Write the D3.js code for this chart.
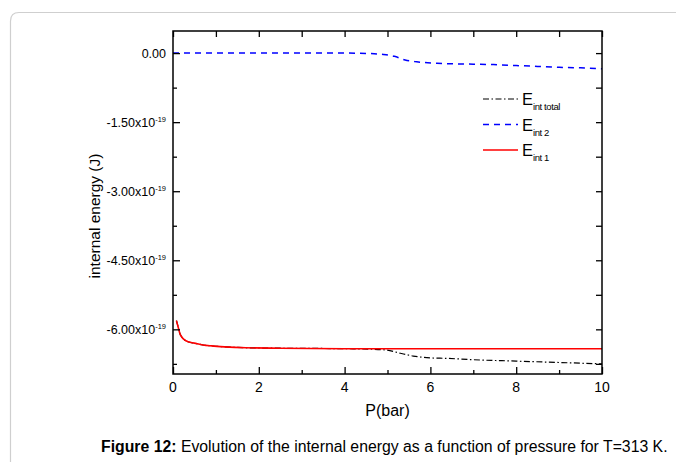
<!DOCTYPE html>
<html>
<head>
<meta charset="utf-8">
<script src="https://cdn.jsdelivr.net/npm/d3@7"></script>
<style>
  body { margin: 0; background: #fff; }
  svg { display: block; font-family: "Liberation Sans", Arial, sans-serif; }
</style>
</head>
<body>
<svg id="chart" width="676" height="462"></svg>
<script>
// values in units of 1e-19 J, pressure in bar
const pInt1 = [0.08, 0.12, 0.16, 0.2, 0.27, 0.35, 0.5, 0.7, 0.9, 1.2, 1.7, 2.5, 4, 6, 8, 10]
const eInt1 = [-5.81, -5.95, -6.09, -6.16, -6.23, -6.27, -6.30, -6.34, -6.36, -6.38, -6.40, -6.41, -6.42, -6.42, -6.42, -6.42]

const pInt2 = [0, 1, 2, 3, 4, 4.6, 4.9, 5.16, 5.41, 5.68, 6.15, 6.42, 7, 7.47, 8, 8.5, 9, 9.5, 10]
const eInt2 = [0, 0, 0, 0, 0, -0.01, -0.03, -0.07, -0.15, -0.19, -0.22, -0.23, -0.24, -0.25, -0.27, -0.29, -0.31, -0.32, -0.34]

const pTotal = [0.08, 0.12, 0.16, 0.2, 0.27, 0.35, 0.5, 0.7, 0.9, 1.2, 1.7, 2.5, 4, 4.6, 4.98, 5.3, 5.6, 6, 6.38, 7, 8, 9, 10]
const eTotal = [-5.81, -5.95, -6.09, -6.16, -6.23, -6.27, -6.30, -6.34, -6.36, -6.38, -6.40, -6.41, -6.42, -6.43, -6.45, -6.52, -6.58, -6.62, -6.63, -6.66, -6.69, -6.72, -6.75]

const xTicks = [0, 2, 4, 6, 8, 10]
const xMinor = [1, 3, 5, 7, 9]
const yTicks = [0, -1.5, -3, -4.5, -6]
const yMinor = [-0.75, -2.25, -3.75, -5.25, -6.75]

const legendNames = [
  { sub: 'int total', color: '#000', dash: '6,2.5,1.5,2.5', width: 1.2 },
  { sub: 'int 2', color: '#0000ff', dash: '6,5', width: 1.5 },
  { sub: 'int 1', color: '#ff0000', dash: null, width: 1.6 }
]

const svg = d3.select('#chart')
const margin = { top: 31, right: 74, bottom: 88, left: 173 }
const innerWidth = 676 - margin.left - margin.right
const innerHeight = 462 - margin.top - margin.bottom

// card border (only left and top edges are inside the picture)
svg.append('path')
  .attr('d', 'M10.5,462 V21 Q10.5,12.5 19,12.5 H676')
  .attr('fill', 'none')
  .attr('stroke', '#cfcfcf')
  .attr('stroke-width', 1.2)

// scales work in page coordinates so texts need no transforms
const xScale = d3.scaleLinear().domain([0, 10]).range([margin.left, margin.left + innerWidth])
const yScale = d3.scaleLinear().domain([-6.97, 0.48]).range([margin.top + innerHeight, margin.top])

// series
const line = d3.line()
  .x(d => xScale(d[0]))
  .y(d => yScale(d[1]))
  .curve(d3.curveMonotoneX)

svg.append('path')
  .datum(d3.zip(pTotal, eTotal))
  .attr('d', line)
  .attr('fill', 'none')
  .attr('stroke', legendNames[0].color)
  .attr('stroke-width', legendNames[0].width)
  .attr('stroke-dasharray', legendNames[0].dash)

svg.append('path')
  .datum(d3.zip(pInt2, eInt2))
  .attr('d', line)
  .attr('fill', 'none')
  .attr('stroke', legendNames[1].color)
  .attr('stroke-width', legendNames[1].width)
  .attr('stroke-dasharray', legendNames[1].dash)

svg.append('path')
  .datum(d3.zip(pInt1, eInt1))
  .attr('d', line)
  .attr('fill', 'none')
  .attr('stroke', legendNames[2].color)
  .attr('stroke-width', legendNames[2].width)

// axes: tick marks only, pointing inward
function ticksOnly(sel) {
  sel.select('.domain').remove()
  sel.selectAll('.tick text').remove()
  sel.selectAll('line').attr('stroke', '#000').attr('stroke-width', 1.3)
}
const bottomY = margin.top + innerHeight
const rightX = margin.left + innerWidth

svg.append('g').attr('transform', `translate(0,${bottomY})`)
  .call(d3.axisBottom(xScale).tickValues(xTicks).tickSizeInner(-7).tickSizeOuter(0))
  .call(ticksOnly)
svg.append('g').attr('transform', `translate(0,${bottomY})`)
  .call(d3.axisBottom(xScale).tickValues(xMinor).tickSizeInner(-4).tickSizeOuter(0))
  .call(ticksOnly)
svg.append('g').attr('transform', `translate(0,${margin.top})`)
  .call(d3.axisTop(xScale).tickValues(xTicks.concat(xMinor)).tickSizeInner(-6).tickSizeOuter(0))
  .call(ticksOnly)
svg.append('g').attr('transform', `translate(${margin.left},0)`)
  .call(d3.axisLeft(yScale).tickValues(yTicks).tickSizeInner(-7).tickSizeOuter(0))
  .call(ticksOnly)
svg.append('g').attr('transform', `translate(${margin.left},0)`)
  .call(d3.axisLeft(yScale).tickValues(yMinor).tickSizeInner(-4).tickSizeOuter(0))
  .call(ticksOnly)
svg.append('g').attr('transform', `translate(${rightX},0)`)
  .call(d3.axisRight(yScale).tickValues(yTicks.concat(yMinor)).tickSizeInner(-6).tickSizeOuter(0))
  .call(ticksOnly)

// frame
svg.append('rect')
  .attr('x', margin.left).attr('y', margin.top)
  .attr('width', innerWidth).attr('height', innerHeight)
  .attr('fill', 'none')
  .attr('stroke', '#000')
  .attr('stroke-width', 1.5)

// tick labels
svg.selectAll('.xlab')
  .data(xTicks)
  .join('text')
  .attr('class', 'xlab')
  .attr('x', d => xScale(d))
  .attr('y', bottomY + 17.5)
  .attr('text-anchor', 'middle')
  .style('font-size', '14px')
  .text(d => d)

svg.selectAll('.ylab')
  .data(yTicks)
  .join('text')
  .attr('class', 'ylab')
  .attr('x', margin.left - 7)
  .attr('y', d => yScale(d) + 4.5)
  .attr('text-anchor', 'end')
  .style('font-size', '12.5px')
  .each(function (d) {
    const t = d3.select(this)
    if (d === 0) {
      t.text('0.00')
    } else {
      t.append('tspan').text(d.toFixed(2) + 'x10')
      t.append('tspan').attr('dy', -5).style('font-size', '7.5px').text('-19')
    }
  })

// axis titles
svg.append('text')
  .attr('x', margin.left + innerWidth / 2)
  .attr('y', 416)
  .attr('text-anchor', 'middle')
  .style('font-size', '16px')
  .text('P(bar)')

svg.append('text')
  .attr('x', 100).attr('y', 216)
  .attr('transform', 'rotate(-90,100,216)')
  .attr('text-anchor', 'middle')
  .attr('dominant-baseline', 'auto')
  .style('font-size', '15.5px')
  .text('internal energy (J)')

// legend
const legX = 483, legY = 99, legStep = 25.5
legendNames.forEach((s, i) => {
  const y = legY + i * legStep
  svg.append('line')
    .attr('x1', legX).attr('x2', legX + 35)
    .attr('y1', y).attr('y2', y)
    .attr('stroke', s.color)
    .attr('stroke-width', s.width)
    .attr('stroke-dasharray', s.dash)
  const t = svg.append('text').attr('x', legX + 39).attr('y', y + 6).style('font-size', '16.5px')
  t.append('tspan').text('E')
  t.append('tspan').attr('dy', 5).style('font-size', '9.5px').style('letter-spacing', '-0.4px').text(s.sub)
})

// caption
const cap = svg.append('text').attr('x', 101).attr('y', 452).style('font-size', '15.8px')
cap.append('tspan').style('font-weight', 'bold').text('Figure 12:')
cap.append('tspan').text(' Evolution of the internal energy as a function of pressure for T=313 K.')
</script>
</body>
</html>
